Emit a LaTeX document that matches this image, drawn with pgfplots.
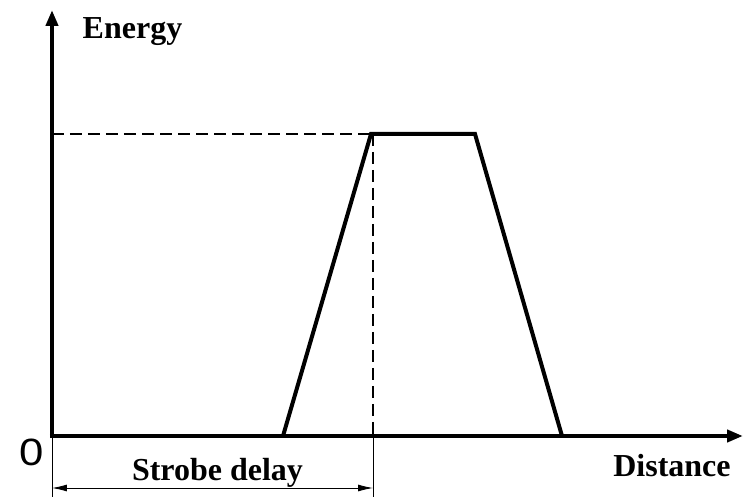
\documentclass[border=0pt]{standalone}
\usepackage{fontspec}
\setmainfont{Liberation Serif}
\newfontfamily\sansf{Liberation Sans}
\usepackage{graphicx}
\usepackage{pgfplots}
\pgfplotsset{compat=1.18}
\usetikzlibrary{arrows.meta}
\begin{document}
\begin{tikzpicture}
\begin{axis}[
  width=691bp, height=426bp, scale only axis,
  xmin=0, xmax=691, ymin=0, ymax=426,
  axis lines=none, clip=false, ticks=none,
]
% bounding box matching 752x502 px
\path[use as bounding box] (axis cs:-52,-66) rectangle (axis cs:700,436);
% axes
\draw[line width=4bp, -{Triangle[length=16bp,width=12bp]}] (axis cs:-2,0) -- (axis cs:691,0);
\draw[line width=4bp, -{Triangle[length=16bp,width=12bp]}] (axis cs:0,0) -- (axis cs:0,426);
% dashed guides
\draw[line width=1.2bp, dash pattern=on 12bp off 6bp] (axis cs:0,302) -- (axis cs:321,302);
\draw[line width=1.2bp, dash pattern=on 12bp off 6bp] (axis cs:321,302) -- (axis cs:321,0);
% dimension lines
\draw[line width=0.9bp] (axis cs:0,-2) -- (axis cs:0,-61);
\draw[line width=0.9bp] (axis cs:321,0) -- (axis cs:321,-61);
\draw[line width=0.9bp, {Latex[length=15bp,width=7bp]}-{Latex[length=15bp,width=7bp]}] (axis cs:0,-52) -- (axis cs:321,-52);
% trapezoid
\addplot[line width=4bp, line join=miter, black] coordinates {(231,0) (319,302) (423,302) (510,0)};
% labels
\node[anchor=base, font=\fontsize{32bp}{38bp}\selectfont\bfseries] at (axis cs:80.5,397) {Energy};
\node[anchor=base, font=\fontsize{32bp}{38bp}\selectfont\bfseries] at (axis cs:620,-40) {Distance};
\node[anchor=base, font=\fontsize{32bp}{38bp}\selectfont\bfseries] at (axis cs:165.5,-44) {Strobe delay};
\node[anchor=base, font=\fontsize{38bp}{44bp}\selectfont\sansf] at (axis cs:-20,-29) {\scalebox{1.15}[1]{0}};
\end{axis}
\end{tikzpicture}
\end{document}
